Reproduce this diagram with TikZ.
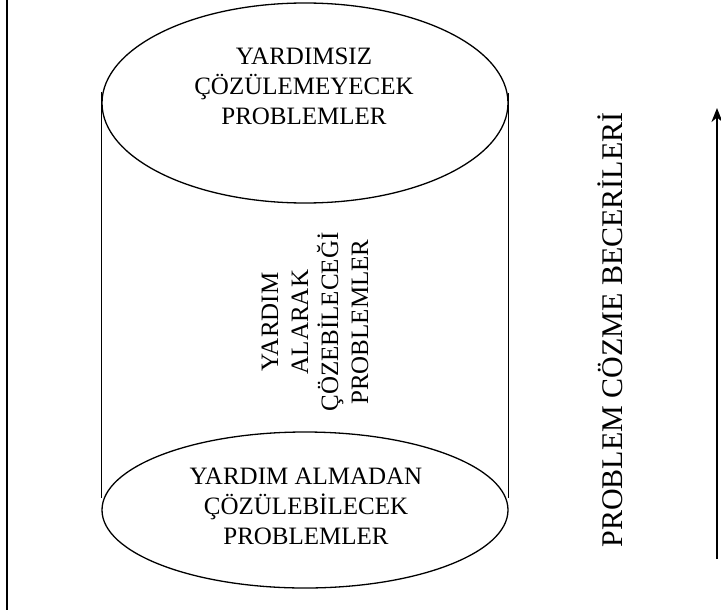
\documentclass[tikz,border=0pt]{standalone}
\usepackage{fontspec}
\setmainfont{Liberation Serif}
\usetikzlibrary{shapes,shapes.geometric,arrows,arrows.meta,calc,positioning}
\tikzset{cyl/.style={draw, ellipse, line width=0.65pt, minimum width=203pt, inner sep=0pt}}
\tikzstyle{lbl}=[align=center, font=\fontsize{12.5}{15}\selectfont]

\begin{document}
\begin{tikzpicture}[x=0.5pt, y=-0.5pt, >={Stealth[length=7pt,width=5.5pt]}]
\useasboundingbox (0,0) rectangle (721,610);
\node[cyl, minimum height=100pt] (Ust) at (305,103) {};
\node[cyl, minimum height=78pt] (Alt) at (305,510) {};
\node[lbl] (UstTxt) at (304,86) {YARDIMSIZ\\ÇÖZÜLEMEYECEK\\PROBLEMLER};
\node[lbl] (AltTxt) at (306,506) {YARDIM ALMADAN\\ÇÖZÜLEBİLECEK\\PROBLEMLER};
\node[lbl, rotate=90] (OrtaTxt) at (315,322) {YARDIM\\ALARAK\\ÇÖZEBİLECEĞİ\\PROBLEMLER};
\node[lbl, font=\fontsize{15}{18}\selectfont, rotate=90] (Beceri) at (610,330) {PROBLEM CÖZME BECERİLERİ};
% silindirin yanlari
\draw[line width=0.65pt] ([yshift=5.5pt]Ust.west) -- ([yshift=6pt]Alt.west)
  ([yshift=5pt]Ust.east) -- ([yshift=6pt]Alt.east);
\coordinate (okAlt) at (717,559);
\coordinate (okUst) at (717,108);
\draw[->, line width=1.3pt] (okAlt) -- (okUst);
\draw[line width=1pt] (7,0) -- (7,610);
\end{tikzpicture}
\end{document}
